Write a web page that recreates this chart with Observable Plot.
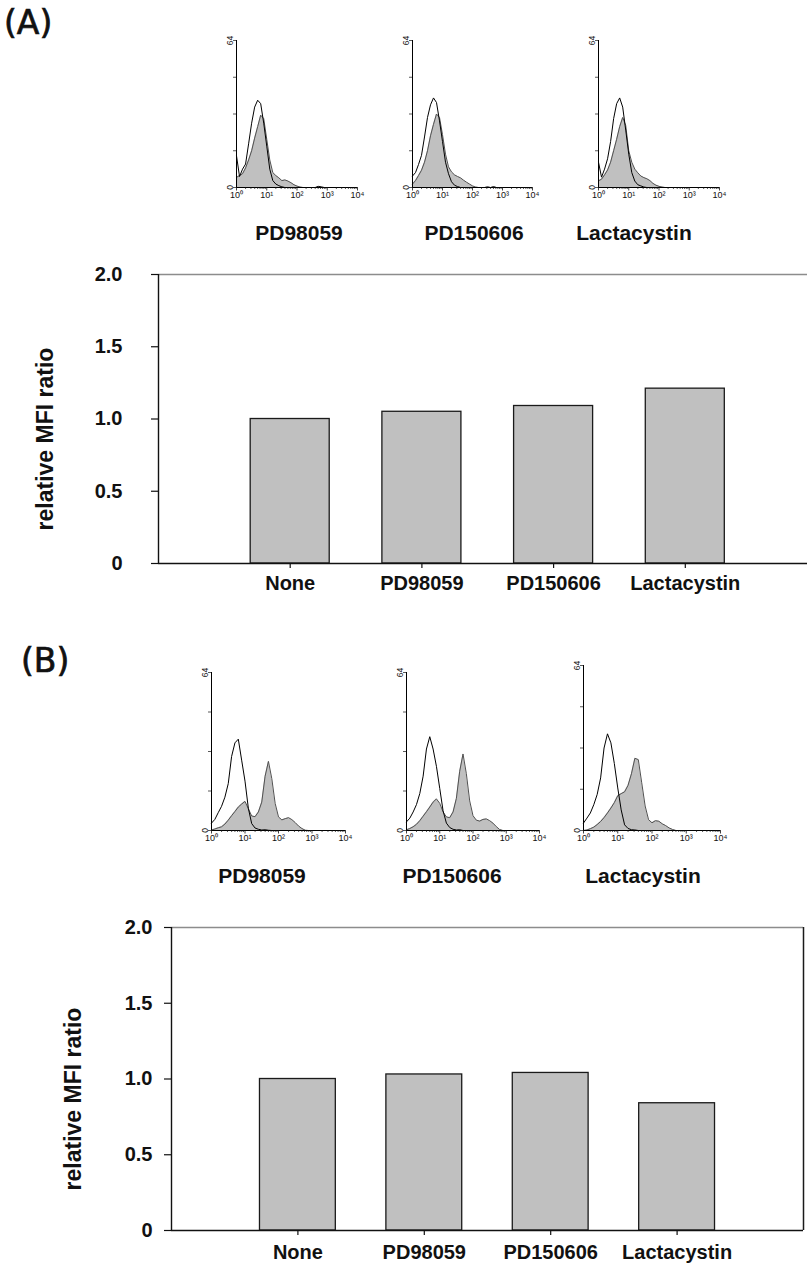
<!DOCTYPE html>
<html>
<head>
<meta charset="utf-8">
<script src="https://cdn.jsdelivr.net/npm/d3@7"></script>
<script src="https://cdn.jsdelivr.net/npm/@observablehq/plot@0.6"></script>
<style>
  body { margin: 0; background: #fff; }
  #root { position: relative; width: 807px; height: 1266px; overflow: hidden; background: #fff; }
  .lbl { position: absolute; line-height: 1; white-space: nowrap; color: #111; }
</style>
</head>
<body>
<div id="root"></div>
<script>
// ---------- data ----------
const categories = ["None", "PD98059", "PD150606", "Lactacystin"];
const mfiA = [1.00, 1.05, 1.09, 1.21];
const mfiB = [1.00, 1.03, 1.04, 0.84];
const yTicks = [0, 0.5, 1.0, 1.5, 2.0];
const histNames = ["PD98059", "PD150606", "Lactacystin"];
const panelLabels = ["(A)", "(B)"];

// fluorescence channel (log10 units, 10^0 .. 10^3) and event counts
const logGrid = [0,0.1,0.2,0.3,0.4,0.5,0.6,0.7,0.8,0.9,1.0,1.1,1.2,1.3,1.4,1.5,1.6,1.7,1.8,1.9,2.0,2.1,2.2,2.3,2.4,2.5,2.6,2.7,2.8,2.9,3.0];
const decadeTicks = [0, 1, 2, 3, 4];
const countTicks = [0, 16, 32, 48, 64];
const countLabels = [0, 64];

const histA1Open   = [13.8,4.8,8,10.2,19,28,35,38,36.5,28,18,8,3,1.5,0.8,0.3,0,0,0,0,0,0,0,0,0,0,0,0.5,0.3,0,0];
const histA1Filled = [4.4,5.2,6,8.5,12,16,21.5,26.5,31.5,30,21,12,6.5,5.2,4.2,3,3.3,2.8,2.1,1.2,0.6,0.2,0,0,0,0,0,0,0,0,0];
const histA2Open   = [5,6.5,10,14,22,30.5,36,39,37,29,20,11,6,2.5,1,0.4,0,0,0,0,0,0,0,0,0,0.3,0,0.4,0,0,0];
const histA2Filled = [1.5,3,5.2,7.5,11,16,22.5,27.5,32,30.5,23,14.5,9,6.8,5.5,4.8,4.2,3.2,2.3,1.5,0.7,0.2,0,0,0,0,0,0,0,0,0];
const histA3Open   = [11,4.5,8,12.5,20,30,36.5,39,35,25,14.5,6.5,2.8,1.2,0.7,0.2,0,0,0,0,0,0,0,0,0,0,0,0,0,0,0];
const histA3Filled = [2.9,3.6,5.5,7.6,11,16,21,26.5,30.5,27,16,11,8,6.4,5,4.3,3.8,3,1.8,1,0.5,0.2,0,0,0,0,0,0,0,0,0];
const histB1Open   = [3,4.5,7.2,9.8,13.5,19,30,35.5,37,28.5,20,9,2.8,1,0.5,0.2,0.3,0.1,0,0,0,0,0,0,0,0,0,0,0,0,0];
const histB1Filled = [0.2,0.6,1.1,1.5,2.6,4.2,6,7.7,9.5,10.7,11.8,8.8,5.9,5.6,7.5,11.5,22,28,21,11,5.5,4.3,4.8,5.2,4.4,3.2,1.8,0.8,0.1,0,0];
const histB2Open   = [3.5,5,7.5,10.5,15,22,33,38,33,26,17,8,3,1.2,0.5,0.2,0.3,0,0,0,0,0,0,0,0,0,0,0,0,0,0];
const histB2Filled = [0.3,0.8,1.5,2.5,4,5.8,7.6,9.5,11.5,12.8,11,7.5,5.5,5.2,7.5,13,24,31,23,12,6,4.2,3.8,4.5,4.7,4,3,1.6,0.4,0,0];
const histB3Open   = [2.9,4.8,6.8,10,14,20.4,32,37.5,34,26,16.5,8,2.2,0.8,0.3,0.2,0,0,0,0,0,0,0,0,0,0,0,0,0,0,0];
const histB3Filled = [0,0.2,0.7,1.3,2.3,3.5,5,6.8,8.7,10.8,13.5,14.3,15,17.5,22,28,27.5,18.5,9.5,4.2,3,3.8,3.6,2.6,1.9,1,0.4,0,0,0,0];

// ---------- helpers ----------
const FONT = '"Liberation Sans", Arial, Helvetica, sans-serif';
const SUP = ["\u2070", "\u00B9", "\u00B2", "\u00B3", "\u2074"];
const minorTicks = d3.range(0, 4).flatMap(k => d3.range(2, 10).map(m => k + Math.log10(m)));
const root = document.getElementById("root");

function place(node, left, top) {
  node.style.position = "absolute";
  node.style.left = left + "px";
  node.style.top = top + "px";
  root.appendChild(node);
}

function textLabel(str, cx, baseline, size, weight, family, anchor, extra) {
  const d = document.createElement("div");
  d.className = "lbl";
  d.textContent = str;
  d.style.fontSize = size + "px";
  d.style.fontWeight = weight;
  d.style.fontFamily = family || FONT;
  d.style.top = (baseline - 0.85 * size) + "px";
  if (anchor === "start") {
    d.style.left = cx + "px";
  } else {
    d.style.width = "240px";
    d.style.textAlign = "center";
    d.style.left = (cx - 120) + "px";
  }
  if (extra) Object.assign(d.style, extra);
  root.appendChild(d);
}

function histogram(open, filled, w, h) {
  const mL = 18, mR = 10, mT = 8, mB = 16;
  return Plot.plot({
    width: mL + w + mR, height: mT + h + mB,
    marginLeft: mL, marginRight: mR, marginTop: mT, marginBottom: mB,
    x: {domain: [0, 4]},
    y: {domain: [0, 64]},
    style: {background: "transparent", fontFamily: FONT, color: "#111", overflow: "visible"},
    marks: [
      Plot.areaY(logGrid, {x: d => d, y: (d, i) => filled[i], fill: "#c0c0c0"}),
      Plot.lineY(logGrid, {x: d => d, y: (d, i) => filled[i], stroke: "#505050", strokeWidth: 1}),
      Plot.lineY(logGrid, {x: d => d, y: (d, i) => open[i], stroke: "#000", strokeWidth: 1}),
      Plot.ruleX([0], {stroke: "#000", strokeWidth: 1}),
      Plot.ruleY([0], {stroke: "#000", strokeWidth: 1}),
      Plot.axisX(minorTicks, {tickSize: 2, tickFormat: () => "", label: null, strokeWidth: 0.7}),
      Plot.axisX(decadeTicks, {tickSize: 3.5, tickPadding: 1, tickFormat: k => "10" + SUP[k], fontSize: 9, label: null, strokeWidth: 0.8}),
      Plot.axisY(countTicks, {tickSize: 3, tickFormat: () => "", label: null, strokeWidth: 0.7}),
      Plot.axisY(countLabels, {tickSize: 0, tickPadding: 4, tickRotate: -90, fontSize: 8.5, label: null})
    ]
  });
}

function barChart(values, o) {
  return Plot.plot({
    width: 807, height: o.height,
    marginTop: o.marginTop, marginBottom: o.marginBottom,
    marginLeft: o.marginLeft, marginRight: o.marginRight,
    x: {domain: [0, 5], range: o.xRange},
    y: {domain: [0, 2]},
    style: {background: "transparent", fontFamily: FONT, fontWeight: "bold", color: "#111", overflow: "visible"},
    marks: [
      Plot.rectY(categories, {x1: (d, i) => i + 0.7, x2: (d, i) => i + 1.3, y: (d, i) => values[i],
        fill: "#c0c0c0", stroke: "#1a1a1a", strokeWidth: 1.3}),
      Plot.ruleY([2], {stroke: "#8c8c8c", strokeWidth: 1.6}),
      ...(o.rightBorder ? [Plot.ruleX([5], {stroke: "#1a1a1a", strokeWidth: 1.5})] : []),
      Plot.ruleY([0], {stroke: "#111", strokeWidth: 1.4}),
      Plot.ruleX([0], {stroke: "#111", strokeWidth: 1.4}),
      Plot.axisY(yTicks, {tickSize: 7, tickPadding: o.tickPadding, tickFormat: d => d === 0 ? "0" : d.toFixed(1),
        fontSize: 20, label: null, strokeWidth: 1.2}),
      Plot.axisX([1, 2, 3, 4], {tickSize: 5, tickPadding: o.xPad, tickFormat: k => categories[k - 1],
        fontSize: 20, label: null, strokeWidth: 1.2}),
      Plot.text(["relative MFI ratio"], {text: d => d, frameAnchor: "left", textAnchor: "middle", lineAnchor: "middle",
        dx: o.labelDx, dy: 20, rotate: -90, fontSize: 23, fill: "#111"})
    ]
  });
}

const bigLabelStyle = {webkitTextStroke: "0.7px #111"};

// ---------- panel A ----------
textLabel(panelLabels[0], 4, 34, 33, "normal", '"DejaVu Sans", sans-serif', "start", bigLabelStyle);

const histsA = [
  {open: histA1Open, filled: histA1Filled, axisX: 236, w: 121, top: 40, h: 147, cx: 299},
  {open: histA2Open, filled: histA2Filled, axisX: 412, w: 120, top: 40, h: 147, cx: 474},
  {open: histA3Open, filled: histA3Filled, axisX: 598, w: 121, top: 40, h: 147, cx: 634}
];
histsA.forEach((hc, i) => {
  place(histogram(hc.open, hc.filled, hc.w, hc.h), hc.axisX - 18, hc.top - 8);
  textLabel(histNames[i], hc.cx, 240, 21, "bold");
});

place(barChart(mfiA, {height: 350, marginTop: 24, marginBottom: 37, marginLeft: 158, marginRight: 0,
  xRange: [158, 816.5], tickPadding: 29, xPad: 7, labelDx: -113, rightBorder: false}), 0, 250);

// ---------- panel B ----------
textLabel(panelLabels[1], 21, 672, 33, "normal", '"DejaVu Sans", sans-serif', "start", bigLabelStyle);

const histsB = [
  {open: histB1Open, filled: histB1Filled, axisX: 211, w: 134, top: 672, h: 158, cx: 262},
  {open: histB2Open, filled: histB2Filled, axisX: 406, w: 133, top: 672, h: 158, cx: 452},
  {open: histB3Open, filled: histB3Filled, axisX: 583, w: 137, top: 665, h: 165, cx: 643}
];
histsB.forEach((hc, i) => {
  place(histogram(hc.open, hc.filled, hc.w, hc.h), hc.axisX - 18, hc.top - 8);
  textLabel(histNames[i], hc.cx, 883, 21, "bold");
});

place(barChart(mfiB, {height: 366, marginTop: 27, marginBottom: 36, marginLeft: 171, marginRight: 4,
  xRange: [171, 803], tickPadding: 12, xPad: 9, labelDx: -98, rightBorder: true}), 0, 900);
</script>
</body>
</html>
